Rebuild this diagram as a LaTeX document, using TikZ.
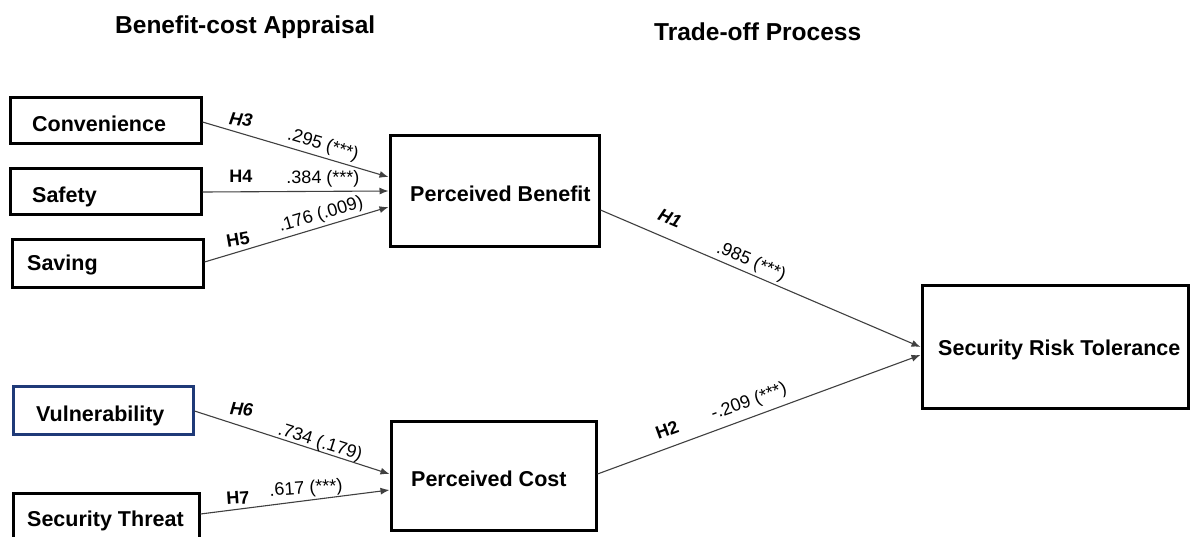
\documentclass[tikz,border=0pt]{standalone}
\usepackage{fontspec}
\setmainfont{Liberation Sans}
\usetikzlibrary{arrows.meta,calc}
\definecolor{edgegray}{HTML}{404040}
\definecolor{navyline}{HTML}{1F3A78}
\tikzset{
  varbox/.style={draw=black, line width=3pt, rectangle, inner sep=0pt},
  vartext/.style={font=\fontsize{21.5}{24}\selectfont\bfseries, inner sep=0pt, anchor=base west, text=black},
  link/.style={draw=edgegray, line width=1.1pt, -{Latex[length=9pt,width=7pt]}},
  hyp/.style={font=\fontsize{18}{20}\selectfont\bfseries, inner sep=0pt, text=black},
  coef/.style={font=\fontsize{18}{20}\selectfont, inner sep=0pt, text=black},
  heading/.style={font=\fontsize{24.5}{28}\selectfont\bfseries, inner sep=0pt, anchor=base west, text=black}
}
\begin{document}
\begin{tikzpicture}[x=1pt, y=-1pt]
  \useasboundingbox (0,0) rectangle (1191,536);
  \fill[white] (0,0) rectangle (1191,536);

  % column headings
  \node[heading] (head-bc) at (115,33) {Benefit-cost Appraisal};
  \node[heading] (head-to) at (654,40) {Trade-off Process};

  % antecedent constructs
  \node[varbox, minimum width=191pt, minimum height=46pt] (conv) at (105.5,120) {};
  \node[vartext] (conv-t) at (32,131) {Convenience};
  \node[varbox, minimum width=191pt, minimum height=46pt] (safe) at (105.5,191) {};
  \node[vartext] (safe-t) at (32,202) {Safety};
  \node[varbox, minimum width=191pt, minimum height=48pt] (save) at (107.5,263) {};
  \node[vartext] (save-t) at (27,270.7) {Saving};
  \node[varbox, draw=navyline, minimum width=180pt, minimum height=48pt] (vul) at (103,410) {};
  \node[vartext] (vul-t) at (36,421.7) {Vulnerability};
  \node[varbox, minimum width=186pt, minimum height=57pt] (st) at (106,521.5) {};
  \node[vartext] (st-t) at (27,526.7) {Security Threat};

  % mediating and outcome constructs
  \node[varbox, minimum width=209pt, minimum height=111pt] (pb) at (494.5,190.5) {};
  \node[vartext] (pb-t) at (410,201.7) {Perceived Benefit};
  \node[varbox, minimum width=205pt, minimum height=109pt] (pc) at (493.5,475.5) {};
  \node[vartext] (pc-t) at (411,486) {Perceived Cost};
  \node[varbox, minimum width=266pt, minimum height=123pt] (srt) at (1055,346.5) {};
  \node[vartext] (srt-t) at (938,355) {Security Risk Tolerance};

  % structural paths
  \draw[link] ([yshift=-2pt]conv.east) -- ([yshift=13.5pt]pb.west);
  \draw[link] ([yshift=-1pt]safe.east) -- ([yshift=-0.5pt]pb.west);
  \draw[link] ([yshift=1pt]save.east) -- ([yshift=-16.5pt]pb.west);
  \draw[link] ([yshift=-1pt]vul.east) -- ([yshift=1.5pt]pc.west);
  \draw[link] ([yshift=7.5pt]st.east) -- ([yshift=-14.5pt]pc.west);
  \draw[link] ([yshift=-19.5pt]pb.east) -- ([yshift=-0.5pt]srt.west);
  \draw[link] ([yshift=1.5pt]pc.east) -- ([yshift=-8.5pt]srt.west);

  % hypotheses and path coefficients
  \node[hyp, rotate=-8] (h3) at (241,119.5) {\itshape H3};
  \node[coef, rotate=-16.4] (c3) at (323,145) {.295 (***)};
  \node[hyp] (h4) at (241,176) {H4};
  \node[coef] (c4) at (323,179) {.384 (***)};
  \node[hyp, rotate=10] (h5) at (238,239.5) {H5};
  \node[coef, rotate=16.4] (c5) at (321,215) {.176 (.009)};
  \node[hyp, rotate=-5] (h6) at (241.5,409.5) {\itshape H6};
  \node[coef, rotate=-17.7] (c6) at (320,443) {.734 (.179)};
  \node[hyp, rotate=4] (h7) at (238,498) {H7};
  \node[coef, rotate=4] (c7) at (306,489) {.617 (***)};
  \node[hyp, rotate=-23] (h1) at (670,218) {\itshape H1};
  \node[coef, rotate=-23] (c1) at (751,262) {.985 (***)};
  \node[hyp, rotate=20] (h2) at (667,430) {H2};
  \node[coef, rotate=20] (c2) at (749,402) {-.209 (***)};
\end{tikzpicture}
\end{document}
